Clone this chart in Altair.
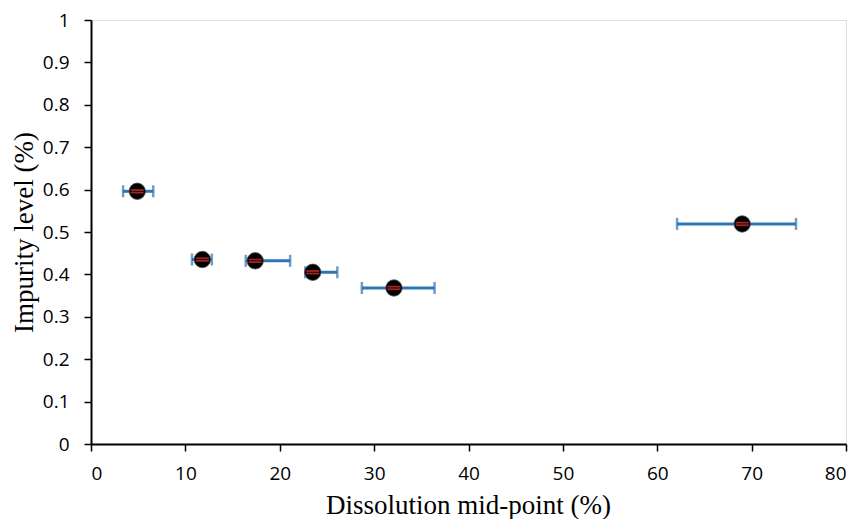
import altair as alt
import pandas as pd

x_mid = [4.9, 11.8, 17.4, 23.5, 32.1, 69.0]
y_imp = [0.596, 0.435, 0.432, 0.405, 0.368, 0.519]
x_lo = [3.4, 10.7, 16.4, 22.7, 28.7, 62.1]
x_hi = [6.6, 12.8, 21.1, 26.1, 36.4, 74.7]
y_err = [0.003, 0.003, 0.003, 0.003, 0.003, 0.003]

df = pd.DataFrame({"x": x_mid, "y": y_imp, "xlo": x_lo, "xhi": x_hi, "ye": y_err})
df["ylo"] = df["y"] - df["ye"]
df["yhi"] = df["y"] + df["ye"]

xs = alt.Scale(domain=[0, 80], nice=False)
ys = alt.Scale(domain=[0, 1], nice=False)

xax = alt.Axis(values=list(range(0, 81, 10)), title="Dissolution mid-point (%)",
               labelPadding=13, titleY=69, titleX=377)
yax = alt.Axis(values=[i / 10 for i in range(0, 11)], title="Impurity level (%)",
               labelPadding=15, titleX=-59, titleY=212, titleAngle=270,
               labelExpr="datum.value")

base = alt.Chart(df)
blue = "#2E75B6"
red = "#E8322B"


def X(f):
    return alt.X(f, type="quantitative", scale=xs, axis=xax)


def Y(f):
    return alt.Y(f, type="quantitative", scale=ys, axis=yax)


hbar = base.mark_rule(color=blue, strokeWidth=3).encode(x=X("xlo"), x2="xhi:Q", y=Y("y"))
cap_lo = base.mark_tick(color=blue, orient="vertical", size=12, thickness=2.5).encode(
    x=X("xlo"), y=Y("y"))
cap_hi = base.mark_tick(color=blue, orient="vertical", size=12, thickness=2.5).encode(
    x=X("xhi"), y=Y("y"))
pts = base.mark_point(filled=True, shape="circle", size=270, color="black", opacity=1,
                      stroke="#555555", strokeWidth=0.8).encode(x=X("x"), y=Y("y"))
red_lo = base.mark_tick(color=red, orient="horizontal", size=13, thickness=1.8).encode(
    x=X("x"), y=Y("ylo"))
red_hi = base.mark_tick(color=red, orient="horizontal", size=13, thickness=1.8).encode(
    x=X("x"), y=Y("yhi"))

chart = alt.layer(hbar, cap_lo, cap_hi, pts, red_lo, red_hi).properties(
    width=755, height=424,
    autosize=alt.AutoSizeParams(type="none"),
    padding={"left": 83, "top": 12, "right": 3, "bottom": 75},
).configure_view(stroke=None).configure(background="white").configure_axis(
    grid=False, domainColor="black", domainWidth=2, tickColor="black", tickWidth=1.5,
    tickSize=7, labelFont="Open Sans", labelFontSize=19, labelColor="black",
    titleFont="Liberation Serif", titleFontSize=27, titleFontWeight="normal",
    titleColor="black", titleBaseline="alphabetic", titleAlign="center")

chart.save("out.html", embed_options={"renderer": "svg", "actions": False})
